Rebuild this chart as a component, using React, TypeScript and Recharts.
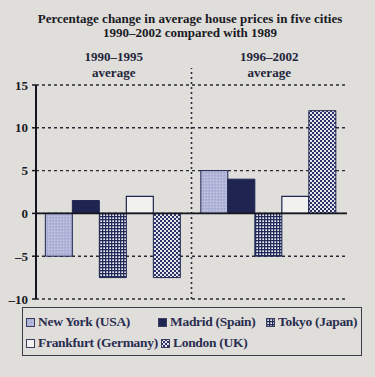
import React from 'react';
import {
  BarChart,
  Bar,
  XAxis,
  YAxis,
  CartesianGrid,
  ReferenceLine,
  Legend,
} from 'recharts';

const categories = ['1990–1995', '1996–2002'];
const newYork = [-5, 5];
const madrid = [1.5, 4];
const tokyo = [-7.5, -5];
const frankfurt = [2, 2];
const london = [-7.5, 12];
const yTicks = [-10, -5, 0, 5, 10, 15];

const seriesNames = [
  'New York (USA)',
  'Madrid (Spain)',
  'Tokyo (Japan)',
  'Frankfurt (Germany)',
  'London (UK)',
];

const data = categories.map((c, i) => ({
  period: c,
  ny: newYork[i],
  madrid: madrid[i],
  tokyo: tokyo[i],
  frankfurt: frankfurt[i],
  london: london[i],
}));

const NAVY = '#1f2550';
const INK = '#23253a';
const BG = '#dfdedb';
const SERIF = "'Liberation Serif', 'Times New Roman', Times, serif";

const TopTick = (props: any) => {
  const { x, y, payload } = props;
  return (
    <g>
      <text
        x={x}
        y={y - 16}
        textAnchor="middle"
        fontFamily={SERIF}
        fontSize={13}
        fontWeight="bold"
        fill={INK}
      >
        {payload.value}
      </text>
      <text
        x={x}
        y={y}
        textAnchor="middle"
        fontFamily={SERIF}
        fontSize={13}
        fontWeight="bold"
        fill={INK}
      >
        average
      </text>
    </g>
  );
};

const legendPos = [
  { left: 3, top: 6 },
  { left: 135, top: 6 },
  { left: 243, top: 6 },
  { left: 3, top: 27 },
  { left: 138, top: 27 },
];

const LegendContent = (props: any) => {
  const { payload } = props;
  return (
    <div
      style={{
        position: 'relative',
        width: 340,
        height: 49,
        border: '1.5px solid #3a3c4c',
        boxSizing: 'border-box',
      }}
    >
      {(payload || []).map((entry: any, i: number) => (
        <div
          key={entry.value}
          style={{
            position: 'absolute',
            left: legendPos[i].left,
            top: legendPos[i].top,
            display: 'flex',
            alignItems: 'center',
            whiteSpace: 'nowrap',
            fontFamily: SERIF,
            fontSize: 13.5,
            fontWeight: 'bold',
            letterSpacing: -0.3,
            color: '#2a2d50',
            lineHeight: '16px',
          }}
        >
          <svg width={9} height={9} style={{ marginRight: 3 }}>
            <rect
              x={0.5}
              y={0.5}
              width={8}
              height={8}
              fill={entry.color}
              stroke="#3a3d60"
              strokeWidth={1}
            />
          </svg>
          {entry.value}
        </div>
      ))}
    </div>
  );
};

export default function App() {
  return (
    <div
      style={{
        position: 'absolute',
        left: 0,
        top: 0,
        width: 375,
        height: 377,
        background: BG,
        overflow: 'hidden',
      }}
    >
      <div
        style={{
          position: 'absolute',
          left: 0,
          top: 12,
          width: 380,
          textAlign: 'center',
          fontFamily: SERIF,
          fontSize: 13,
          fontWeight: 'bold',
          color: '#1a1a24',
          lineHeight: '14px',
        }}
      >
        Percentage change in average house prices in five cities
        <br />
        1990–2002 compared with 1989
      </div>
      <div style={{ position: 'absolute', left: 0, top: 0 }}>
        <BarChart
          width={375}
          height={377}
          data={data}
          margin={{ top: 45, right: 28, bottom: 78, left: 6 }}
          barCategoryGap="6%"
          barGap={0}
        >
          <defs>
            <pattern id="pNY" width="3" height="3" patternUnits="userSpaceOnUse">
              <rect width="3" height="3" fill="#b0b4d8" />
              <rect x="0" y="0" width="1" height="1" fill="#cacde5" />
              <rect x="2" y="1" width="1" height="1" fill="#9fa4cc" />
            </pattern>
            <pattern id="pTokyo" width="3" height="3" patternUnits="userSpaceOnUse">
              <rect width="3" height="3" fill="#eeeef4" />
              <rect x="0" y="0" width="3" height="1.3" fill="#222a5a" />
              <rect x="0" y="0" width="1.3" height="3" fill="#222a5a" />
            </pattern>
            <pattern id="pLondon" width="4" height="4" patternUnits="userSpaceOnUse">
              <rect width="4" height="4" fill="#e6e6ee" />
              <rect x="0" y="0" width="2" height="2" fill="#2a3266" />
              <rect x="2" y="2" width="2" height="2" fill="#2a3266" />
            </pattern>
          </defs>
          <CartesianGrid
            horizontal={true}
            vertical={false}
            stroke="#2a2a36"
            strokeWidth={1.4}
            strokeDasharray="3 3"
          />
          <XAxis
            dataKey="period"
            orientation="top"
            xAxisId={0}
            height={40}
            axisLine={false}
            tickLine={false}
            tick={<TopTick />}
            interval={0}
          />
          <YAxis
            width={30}
            domain={[-10, 15]}
            ticks={yTicks}
            interval={0}
            allowDataOverflow={true}
            axisLine={{ stroke: '#15151f', strokeWidth: 2 }}
            tickLine={{ stroke: '#15151f', strokeWidth: 1.5 }}
            tickSize={4}
            tickMargin={4}
            tick={{
              fontFamily: SERIF,
              fontSize: 13,
              fontWeight: 'bold',
              fill: '#1a1a24',
            }}
            tickFormatter={(v: number) => (v < 0 ? `–${Math.abs(v)}` : `${v}`)}
          />
          <ReferenceLine
            segment={[
              { x: categories[0], y: -10 },
              { x: categories[0], y: 17 },
            ]}
            position="end"
            ifOverflow="visible"
            stroke="#2a2a36"
            strokeWidth={1.6}
            strokeDasharray="2 3"
          />
          <Legend
            layout="horizontal"
            verticalAlign="middle"
            align="center"
            content={<LegendContent />}
            itemSorter={(item: any) => seriesNames.indexOf(item.value)}
            wrapperStyle={{ left: 22, top: 307, width: 340, height: 49 }}
          />
          <Bar
            dataKey="ny"
            name={seriesNames[0]}
            fill="url(#pNY)"
            stroke={NAVY}
            strokeWidth={1}
            isAnimationActive={false}
          />
          <Bar
            dataKey="madrid"
            name={seriesNames[1]}
            fill={NAVY}
            stroke={NAVY}
            strokeWidth={1}
            isAnimationActive={false}
          />
          <Bar
            dataKey="tokyo"
            name={seriesNames[2]}
            fill="url(#pTokyo)"
            stroke={NAVY}
            strokeWidth={1}
            isAnimationActive={false}
          />
          <Bar
            dataKey="frankfurt"
            name={seriesNames[3]}
            fill="#f1f1f0"
            stroke={NAVY}
            strokeWidth={1.2}
            isAnimationActive={false}
          />
          <Bar
            dataKey="london"
            name={seriesNames[4]}
            fill="url(#pLondon)"
            stroke={NAVY}
            strokeWidth={1}
            isAnimationActive={false}
          />
          <ReferenceLine y={0} stroke="#15151f" strokeWidth={1.6} ifOverflow="visible" />
        </BarChart>
      </div>
    </div>
  );
}
